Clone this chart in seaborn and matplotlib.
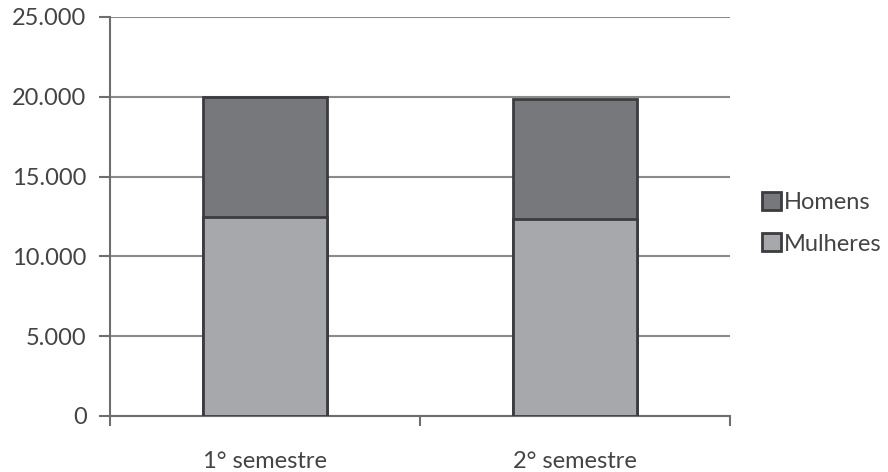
import numpy as np
import pandas as pd
import matplotlib
matplotlib.use('Agg')
import matplotlib.pyplot as plt
from matplotlib.patches import Patch
from matplotlib.ticker import FuncFormatter
import seaborn as sns

# data
semestres = ['1° semestre', '2° semestre']
mulheres = [12450, 12340]
homens = [7550, 7520]

df = pd.DataFrame({'semestre': semestres, 'Mulheres': mulheres, 'Homens': homens})
df['Total'] = df['Mulheres'] + df['Homens']

sns.set_style('white')
plt.rcParams['font.family'] = ['Lato', 'DejaVu Sans']

c_homens = '#77787b'
c_mulheres = '#a7a8ab'
c_edge = '#3c3c3e'
c_text = '#444444'

fig = plt.figure(figsize=(8.88, 4.72), dpi=100)
ax = fig.add_axes([0.124, 0.119, 0.698, 0.845])

# stacked bars: total first (Homens on top), then Mulheres in front
sns.barplot(data=df, x='semestre', y='Total', color=c_homens, width=0.4,
            edgecolor=c_edge, linewidth=2, saturation=1, ax=ax, zorder=3)
sns.barplot(data=df, x='semestre', y='Mulheres', color=c_mulheres, width=0.4,
            edgecolor=c_edge, linewidth=2, saturation=1, ax=ax, zorder=4)

ax.set_xlim(-0.5, 1.5)
ax.set_ylim(0, 25000)
ax.set_yticks(np.arange(0, 25001, 5000))
ax.yaxis.set_major_formatter(FuncFormatter(lambda v, p: f'{int(v):,}'.replace(',', '.')))
ax.yaxis.grid(True, color='#8a8a8a', linewidth=1.5, zorder=0)
ax.set_axisbelow(True)

ax.set_xlabel('')
ax.set_ylabel('')

for s in ['top', 'right']:
    ax.spines[s].set_visible(False)
for s in ['left', 'bottom']:
    ax.spines[s].set_color('#6e6e6e')
    ax.spines[s].set_linewidth(1.5)

ax.tick_params(axis='y', direction='out', length=8, width=1.5, color='#6e6e6e',
               labelsize=17, labelcolor=c_text, pad=9, left=True)
ax.tick_params(axis='x', length=0, labelsize=17, labelcolor=c_text, pad=25)

# minor ticks on x at category boundaries
ax.set_xticks([-0.5, 0.5, 1.5], minor=True)
ax.tick_params(axis='x', which='minor', direction='out', length=7, width=1.5,
               color='#6e6e6e', bottom=True)

handles = [Patch(facecolor=c_homens, edgecolor=c_edge, linewidth=2, label='Homens'),
           Patch(facecolor=c_mulheres, edgecolor=c_edge, linewidth=2, label='Mulheres')]
leg = fig.legend(handles=handles, loc='center left', bbox_to_anchor=(0.858, 0.527),
                 frameon=False, fontsize=17, handlelength=0.8, handleheight=0.8,
                 handletextpad=0.15, labelspacing=0.85, labelcolor=c_text,
                 borderpad=0, borderaxespad=0)

fig.savefig('out.png', dpi=100)
